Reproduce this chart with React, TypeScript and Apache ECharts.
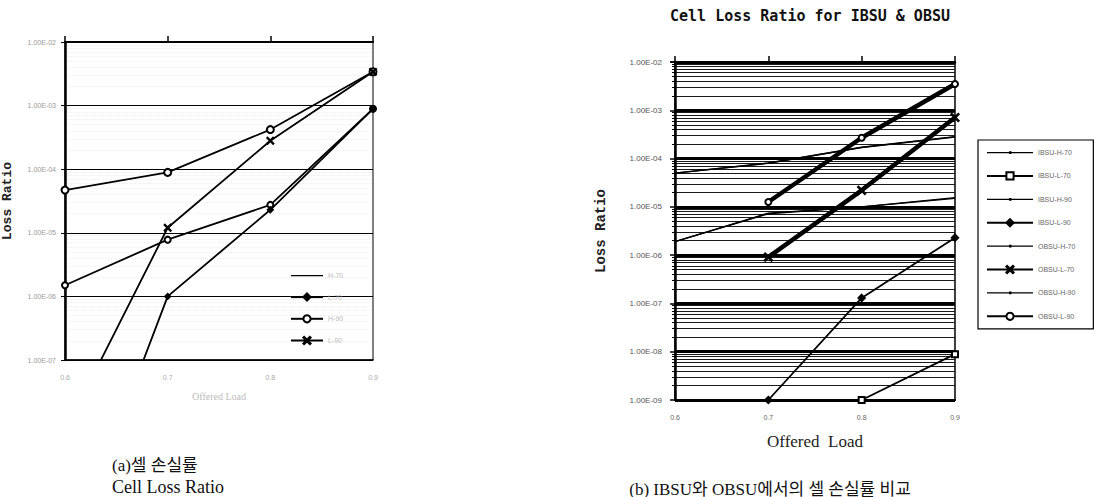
import React, { useEffect, useRef } from "react";
import * as echarts from "echarts";

// ---------- data ----------
const loads = [0.6, 0.7, 0.8, 0.9];

// (a) cell loss ratio
const aNames = ["H-70", "L-70", "H-90", "L-90"];
const aH70 = [1.5e-6, 7.8e-6, 2.75e-5, 8.9e-4];
const aL70 = [5.6e-11, 1.0e-6, 2.3e-5, 8.9e-4];
const aH90 = [4.7e-5, 8.9e-5, 4.2e-4, 3.4e-3];
const aL90 = [7.6e-9, 1.2e-5, 2.8e-4, 3.4e-3];

// (b) IBSU vs OBSU
const bNames = [
  "IBSU-H-70",
  "IBSU-L-70",
  "IBSU-H-90",
  "IBSU-L-90",
  "OBSU-H-70",
  "OBSU-L-70",
  "OBSU-H-90",
  "OBSU-L-90",
];
const ibsuH70 = [1.9e-6, 7.4e-6, 1.0e-5, 1.5e-5];
const ibsuL70 = [null, null, 1.0e-9, 8.9e-9];
const ibsuH90 = [5.0e-5, 8.1e-5, 1.7e-4, 2.8e-4];
const ibsuL90 = [null, 1.0e-9, 1.3e-7, 2.3e-6];
const obsuH70 = [1.9e-6, 7.2e-6, 1.0e-5, 1.55e-5];
const obsuL70 = [null, 9.1e-7, 2.2e-5, 7.1e-4];
const obsuH90 = [5.0e-5, 8.0e-5, 1.72e-4, 2.85e-4];
const obsuL90 = [null, 1.26e-5, 2.7e-4, 3.5e-3];

const titleB = "Cell Loss Ratio for IBSU & OBSU";
const captionA1 = "(a)셀 손실률";
const captionA2 = "Cell Loss Ratio";
const captionB = "(b) IBSU와 OBSU에서의 셀 손실률 비교";

// ---------- helpers ----------
const X_PATH =
  "path://M1,0 L5,4 L9,0 L10,1 L6,5 L10,9 L9,10 L5,6 L1,10 L0,9 L4,5 L0,1 Z";
// plain line icon (tiny corner specks keep the full box so it isn't stretched)
const PLAIN_ICON_A =
  "path://M0,0 L0.05,0 L0,0.05 Z M0,3.9 L32,3.9 L32,5.3 L0,5.3 Z M32,9 L31.95,9 L32,8.95 Z";
// thin line with a small dot in the middle
const DOT_ICON_B =
  "path://M0,0 L0.05,0 L0,0.05 Z M0,3.9 L46,3.9 L46,5.2 L0,5.2 Z M22,3.2 L24.5,3.2 L24.5,5.9 L22,5.9 Z M46,9 L45.95,9 L46,8.95 Z";

const NO_STROKE = { borderWidth: 0, borderColor: "transparent", color: "#000" };

const fmtE = (v: number) => {
  const e = Math.round(Math.log10(v));
  return "1.00E" + (e < 0 ? "-" : "+") + String(Math.abs(e)).padStart(2, "0");
};

const toPairs = (arr: (number | null)[]) =>
  loads.map((x, i) => [x, arr[i] == null ? "-" : arr[i]]);

export default function App() {
  const ref = useRef<HTMLDivElement>(null);

  useEffect(() => {
    if (!ref.current) return;
    const chart = echarts.init(ref.current, null, { renderer: "svg" });

    const lineA = (name: string, data: number[], symbol: string, size: number, width = 1.8) => ({
      name,
      type: "line",
      xAxisIndex: 0,
      yAxisIndex: 0,
      data: toPairs(data),
      symbol,
      symbolSize: size,
      clip: true,
      lineStyle: { color: "#000", width },
      itemStyle: { color: "#000", borderColor: "#000", borderWidth: 1.3 },
    });

    const lineB = (name: string, data: (number | null)[], symbol: string, size: number, width: number) => ({
      name,
      type: "line",
      xAxisIndex: 2,
      yAxisIndex: 1,
      data: toPairs(data),
      symbol,
      symbolSize: size,
      clip: true,
      lineStyle: { color: "#000", width },
      itemStyle: { color: "#000", borderColor: "#000", borderWidth: 1.5 },
    });

    const option: any = {
      animation: false,
      backgroundColor: "#fff",
      grid: [
        { left: 63, top: 42, width: 310, height: 318, show: true, borderColor: "#000", borderWidth: 1 },
        { left: 675, top: 62, width: 280, height: 338, show: true, borderColor: "#000", borderWidth: 1.5 },
      ],
      xAxis: [
        {
          gridIndex: 0,
          type: "value",
          position: "bottom",
          min: 0.6,
          max: 0.9,
          interval: 0.1,
          axisLine: { show: true, lineStyle: { color: "#000", width: 1.5 } },
          axisTick: { show: false },
          splitLine: { show: false },
          axisLabel: { fontSize: 7, color: "#aaa", margin: 14, formatter: (v: number) => v.toFixed(1) },
          name: "Offered Load",
          nameLocation: "middle",
          nameGap: 31,
          nameTextStyle: { fontSize: 10, color: "#bbb", fontFamily: "Liberation Serif" },
        },
        {
          gridIndex: 0,
          type: "value",
          position: "top",
          min: 0.6,
          max: 0.9,
          interval: 0.1,
          axisLine: { show: true, lineStyle: { color: "#000", width: 2 } },
          axisTick: { show: true, length: 6, lineStyle: { color: "#000", width: 1.5 } },
          splitLine: { show: false },
          axisLabel: { show: false },
        },
        {
          gridIndex: 1,
          type: "value",
          position: "bottom",
          min: 0.6,
          max: 0.9,
          interval: 0.1,
          axisLine: { show: true, lineStyle: { color: "#000", width: 2 } },
          axisTick: { show: false },
          splitLine: { show: false },
          axisLabel: { fontSize: 7, color: "#666", margin: 14, formatter: (v: number) => v.toFixed(1) },
          name: "Offered  Load",
          nameLocation: "middle",
          nameGap: 33,
          nameTextStyle: { fontSize: 17, color: "#222", fontFamily: "Liberation Serif" },
        },
        {
          gridIndex: 1,
          type: "value",
          position: "top",
          min: 0.6,
          max: 0.9,
          interval: 0.1,
          axisLine: { show: true, lineStyle: { color: "#000", width: 2.5 } },
          axisTick: { show: true, length: 6, lineStyle: { color: "#000", width: 1.5 } },
          splitLine: { show: false },
          axisLabel: { show: false },
        },
      ],
      yAxis: [
        {
          gridIndex: 0,
          type: "log",
          logBase: 10,
          min: 1e-7,
          max: 1e-2,
          splitNumber: 5,
          axisLine: { show: true, lineStyle: { color: "#000", width: 2.5 } },
          axisTick: { show: true, length: 4, lineStyle: { color: "#000" } },
          axisLabel: { fontSize: 7, color: "#999", margin: 9, formatter: fmtE },
          splitLine: { show: true, lineStyle: { color: "#000", width: 1.2 } },
          minorTick: { show: false, splitNumber: 9 },
          minorSplitLine: { show: true, lineStyle: { color: "#eeeeee", type: "dotted", width: 1 } },
          name: "Loss Ratio",
          nameLocation: "middle",
          nameGap: 51,
          nameTextStyle: { fontSize: 13, fontWeight: "bold", color: "#222", fontFamily: "Liberation Mono" },
        },
        {
          gridIndex: 1,
          type: "log",
          logBase: 10,
          min: 1e-9,
          max: 1e-2,
          splitNumber: 7,
          axisLine: { show: true, lineStyle: { color: "#000", width: 2.5 } },
          axisTick: { show: true, length: 5, lineStyle: { color: "#000", width: 1.5 } },
          axisLabel: { fontSize: 8, color: "#555", margin: 13, formatter: fmtE },
          splitLine: { show: true, lineStyle: { color: "#000", width: 3 } },
          minorTick: { show: true, splitNumber: 9, length: 3, lineStyle: { color: "#000" } },
          minorSplitLine: { show: true, lineStyle: { color: "#1a1a1a", width: 1.2 } },
          name: "Loss Ratio",
          nameLocation: "middle",
          nameGap: 67,
          nameTextStyle: { fontSize: 14, fontWeight: "bold", color: "#222", fontFamily: "Liberation Mono" },
        },
      ],
      legend: [
        {
          orient: "vertical",
          left: 285,
          top: 266,
          itemWidth: 32,
          itemHeight: 9,
          itemGap: 12.5,
          textStyle: { color: "#bbb", fontSize: 7 },
          data: [{ name: aNames[0], icon: PLAIN_ICON_A, itemStyle: NO_STROKE }, aNames[1], aNames[2], aNames[3]],
        },
        {
          orient: "vertical",
          left: 978,
          top: 140,
          padding: [8, 18, 8, 8],
          backgroundColor: "#fff",
          borderColor: "#000",
          borderWidth: 1.2,
          itemWidth: 46,
          itemHeight: 9,
          itemGap: 14.3,
          textStyle: { color: "#666", fontSize: 7 },
          data: [
            { name: bNames[0], icon: DOT_ICON_B, itemStyle: NO_STROKE },
            bNames[1],
            { name: bNames[2], icon: DOT_ICON_B, itemStyle: NO_STROKE },
            bNames[3],
            { name: bNames[4], icon: DOT_ICON_B, itemStyle: NO_STROKE },
            bNames[5],
            { name: bNames[6], icon: DOT_ICON_B, itemStyle: NO_STROKE },
            bNames[7],
          ],
        },
      ],
      series: [
        lineA(aNames[0], aH70, "emptyCircle", 6),
        lineA(aNames[1], aL70, "diamond", 6),
        lineA(aNames[2], aH90, "emptyCircle", 7),
        lineA(aNames[3], aL90, X_PATH, 7),
        lineB(bNames[0], ibsuH70, "none", 2, 1.4),
        lineB(bNames[1], ibsuL70, "emptyRect", 6, 1.8),
        lineB(bNames[2], ibsuH90, "none", 2, 1.4),
        lineB(bNames[3], ibsuL90, "diamond", 7, 1.8),
        lineB(bNames[4], obsuH70, "none", 2, 1.4),
        lineB(bNames[5], obsuL70, X_PATH, 8, 4.5),
        lineB(bNames[6], obsuH90, "none", 2, 1.4),
        lineB(bNames[7], obsuL90, "emptyCircle", 6, 4.5),
      ],
      graphic: [
        {
          type: "text",
          x: 810,
          y: 16,
          style: {
            text: titleB,
            align: "center",
            verticalAlign: "middle",
            font: 'bold 15px "DejaVu Sans Mono"',
            fill: "#111",
          },
        },
        {
          type: "text",
          x: 112,
          y: 465,
          style: {
            text: captionA1,
            align: "left",
            verticalAlign: "middle",
            font: '17px "Liberation Serif", "Noto Sans CJK KR"',
            fill: "#111",
          },
        },
        {
          type: "text",
          x: 112,
          y: 487,
          style: {
            text: captionA2,
            align: "left",
            verticalAlign: "middle",
            font: '18px "Liberation Serif"',
            fill: "#111",
          },
        },
        {
          type: "text",
          x: 770,
          y: 489,
          style: {
            text: captionB,
            align: "center",
            verticalAlign: "middle",
            font: '17px "Liberation Serif", "Noto Sans CJK KR"',
            fill: "#111",
          },
        },
      ],
    };

    chart.setOption(option);
    return () => chart.dispose();
  }, []);

  return (
    <div
      ref={ref}
      style={{ position: "fixed", left: 0, top: 0, width: 1103, height: 497, background: "#fff" }}
    />
  );
}
